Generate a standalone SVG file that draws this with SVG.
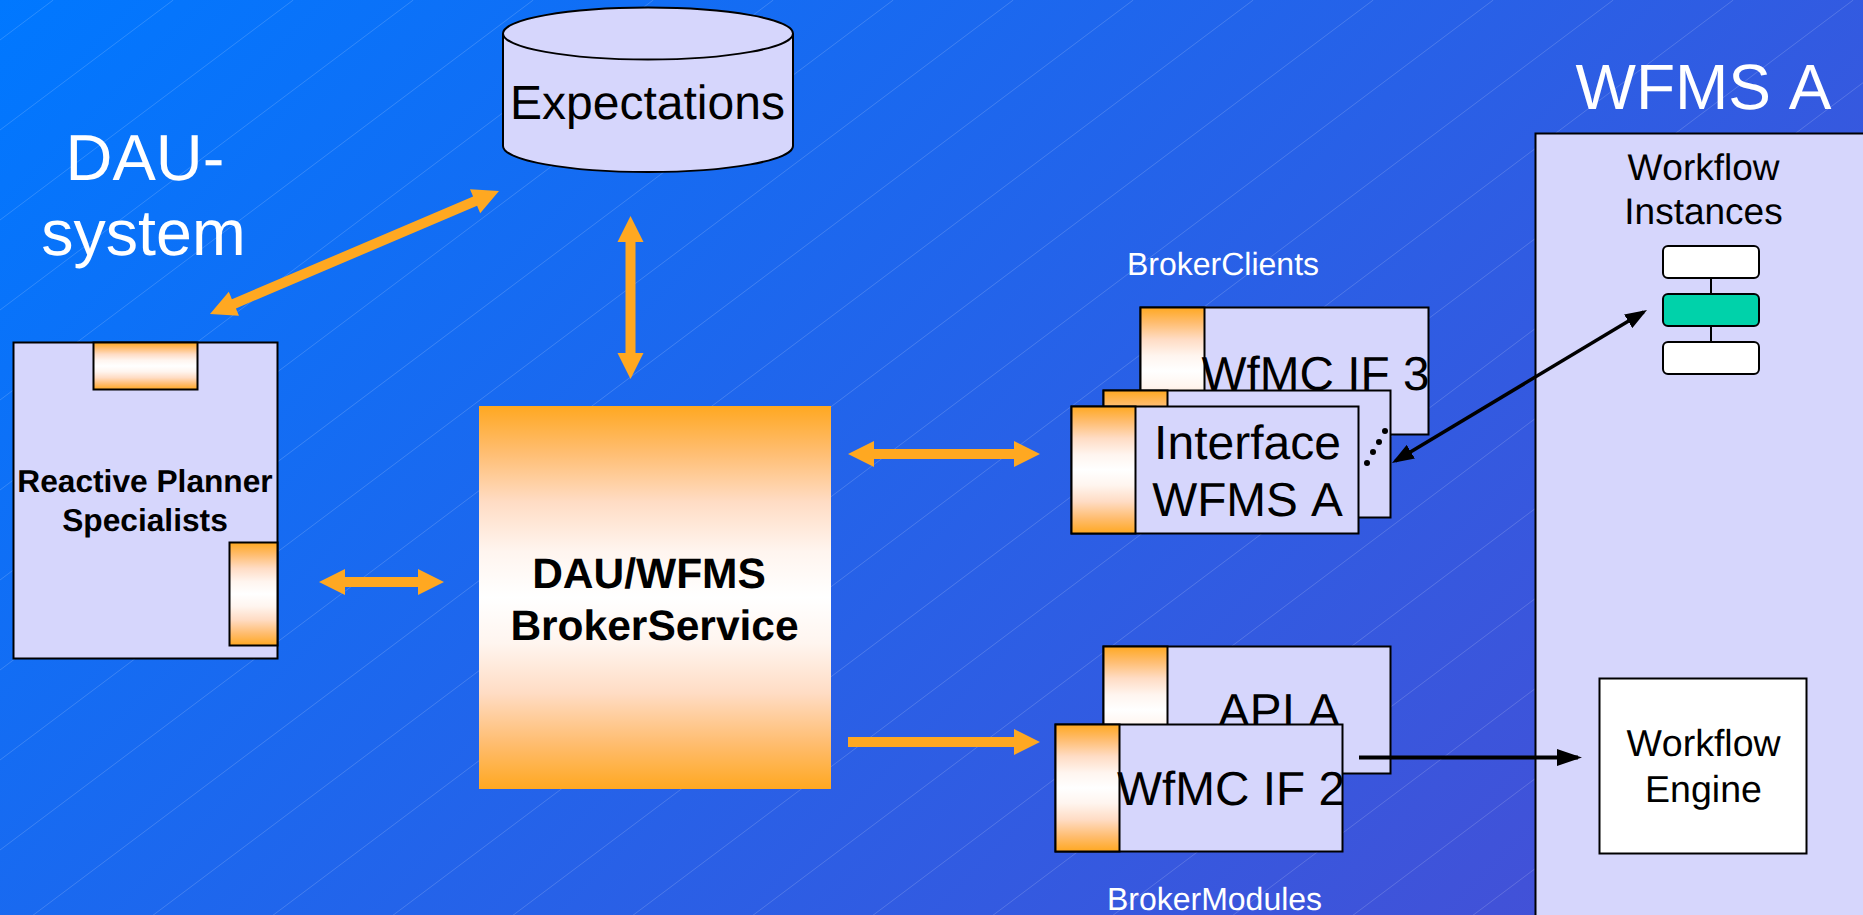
<svg xmlns="http://www.w3.org/2000/svg" width="1863" height="915" viewBox="0 0 1863 915">
<style>
.s{font-family:"Liberation Sans",Arial,sans-serif;text-anchor:middle;font-kerning:none;text-rendering:geometricPrecision}
.b{fill:#d6d6fc;stroke:#000;stroke-width:2}
.k{fill:#000}
.w{fill:#fff}
.g{fill:url(#og);stroke:#000;stroke-width:2}
.o{fill:#ffa821}
.r{stroke:#000;stroke-width:2}
</style>
<defs>
<linearGradient id="bg" gradientUnits="userSpaceOnUse" x1="0" y1="0" x2="1389" y2="1389"><stop offset="0" stop-color="#0078ff"/><stop offset="1" stop-color="#4b4cd2"/></linearGradient>
<linearGradient id="og" x1="0" y1="0" x2="0" y2="1"><stop offset="0" stop-color="#ffa821"/><stop offset=".12" stop-color="#ffbd70"/><stop offset=".25" stop-color="#ffdcc4"/><stop offset=".38" stop-color="#fff5ef"/><stop offset=".5" stop-color="#fff"/><stop offset=".62" stop-color="#fff5ef"/><stop offset=".75" stop-color="#ffdcc4"/><stop offset=".88" stop-color="#ffbd70"/><stop offset="1" stop-color="#ffa821"/></linearGradient>
<marker id="ah" markerUnits="userSpaceOnUse" viewBox="0 0 22 16" refX="18" refY="8" markerWidth="22" markerHeight="16" orient="auto-start-reverse"><path d="M0 0L22 8L0 16z"/></marker>
<marker id="ahb" markerUnits="userSpaceOnUse" viewBox="0 0 25 17" refX="21" refY="8.500" markerWidth="25" markerHeight="17" orient="auto"><path d="M0 0L25 8.500L0 17z"/></marker>
</defs>
<rect id="background" width="1863" height="915" fill="url(#bg)"/>
<path id="hatch" fill="none" stroke="#fff" stroke-opacity=".17" d="M0 40L53.300 0M0 130L173.300 0M0 220L293.300 0M0 310L413.300 0M0 400L533.300 0M0 490L653.300 0M0 580L773.300 0M0 670L893.300 0M0 760L1013.300 0M0 850L1133.300 0M0 940L1253.300 0M0 1030L1373.300 0M0 1120L1493.300 0M0 1210L1613.300 0M0 1300L1733.300 0M0 1390L1853.300 0M0 1480L1973.300 0M0 1570L2093.300 0M0 1660L2213.300 0M0 1750L2333.300 0M0 1840L2453.300 0M0 1930L2573.300 0M0 2020L2693.300 0M0 2110L2813.300 0M0 2200L2933.300 0M0 2290L3053.300 0"/>
<g id="labels">
<text class="s w" font-size="65" x="145" y="179.500">DAU-</text>
<text class="s w" font-size="64.500" x="143.500" y="255">system</text>
<text class="s w" font-size="64" x="1703.500" y="109">WFMS A</text>
<text class="s w" font-size="32" x="1223" y="275">BrokerClients</text>
<text class="s w" font-size="32" x="1214.500" y="910">BrokerModules</text>
</g>
<g id="expectations">
<path class="b" d="M503 33.500V146A145 26 0 0 0 793 146V33.500"/>
<ellipse class="b" cx="648" cy="33.500" rx="145" ry="26"/>
<text class="s k" font-size="48" x="647.500" y="119">Expectations</text>
</g>
<g id="planner">
<rect class="b" x="13.500" y="342.500" width="264" height="316"/>
<rect class="g" x="93.500" y="342.500" width="104" height="47"/>
<rect class="g" x="229.500" y="542.500" width="48" height="103"/>
<text class="s k" font-size="31.700" font-weight="700" x="145" y="492">Reactive Planner</text>
<text class="s k" font-size="31.700" font-weight="700" x="145" y="531">Specialists</text>
</g>
<g id="broker">
<rect x="479" y="406" width="352" height="383" fill="url(#og)"/>
<text class="s k" font-size="42.500" font-weight="700" x="649" y="588">DAU/WFMS</text>
<text class="s k" font-size="42.500" font-weight="700" x="654.500" y="640">BrokerService</text>
</g>
<g id="wfmc3">
<rect class="b" x="1140.500" y="307.500" width="288" height="127"/>
<rect class="g" x="1140.500" y="307.500" width="64" height="127"/>
<text class="s k" font-size="47.700" x="1315.500" y="390">WfMC IF 3</text>
</g>
<g id="clientback">
<rect class="b" x="1103.500" y="390.500" width="287" height="127"/>
<rect class="g" x="1103.500" y="390.500" width="64" height="127"/>
<circle cx="1385" cy="431" r="3"/><circle cx="1379" cy="442" r="3"/><circle cx="1373" cy="452" r="3"/><circle cx="1367" cy="463" r="3"/>
</g>
<g id="interface">
<rect class="b" x="1071.500" y="406.500" width="287" height="127"/>
<rect class="g" x="1071.500" y="406.500" width="64" height="127"/>
<text class="s k" font-size="48" x="1247.500" y="459">Interface</text>
<text class="s k" font-size="47.700" x="1247.500" y="516">WFMS A</text>
</g>
<g id="api">
<rect class="b" x="1103.500" y="646.500" width="287" height="127"/>
<rect class="g" x="1103.500" y="646.500" width="64" height="127"/>
<text class="s k" font-size="47.700" x="1279" y="727">API A</text>
</g>
<g id="wfmc2">
<rect class="b" x="1055.500" y="724.500" width="287" height="127"/>
<rect class="g" x="1055.500" y="724.500" width="64" height="127"/>
<text class="s k" font-size="47.700" x="1231" y="805">WfMC IF 2</text>
</g>
<g id="wfms">
<rect class="b" x="1535.500" y="133.500" width="340" height="800"/>
<text class="s k" font-size="37" x="1703.500" y="180">Workflow</text>
<text class="s k" font-size="37" x="1703.500" y="224">Instances</text>
<path class="r" d="M1711 278V294M1711 326V342"/>
<rect class="r" x="1663" y="246" width="96" height="32" rx="5" fill="#fff"/>
<rect class="r" x="1663" y="294" width="96" height="32" rx="5" fill="#00d2aa"/>
<rect class="r" x="1663" y="342" width="96" height="32" rx="5" fill="#fff"/>
<rect class="r" x="1599.500" y="678.500" width="207" height="175" fill="#fff"/>
<text class="s k" font-size="37.500" x="1703.500" y="756">Workflow</text>
<text class="s k" font-size="37.500" x="1703.500" y="802">Engine</text>
</g>
<g id="connectors">
<g class="o">
<path d="M210 314L239 315.800L235.900 308.400L477.100 205.800L480.200 213.200L499 191L470 189.200L473.100 196.600L231.900 299.200L228.800 291.800z"/>
<path d="M630.500 216L643.500 242H635.500V353H643.500L630.500 379L617.500 353H625.500V242H617.500z"/>
<path d="M319 582L345 569V577H418V569L444 582L418 595V587H345V595z"/>
<path d="M848 454L874 441V449H1014V441L1040 454L1014 467V459H874V467z"/>
<path d="M848 737H1014V729L1040 742L1014 755V747H848z"/>
</g>
<g stroke="#000" fill="none">
<path stroke-width="3.500" d="M1395.400 461L1643.600 312" marker-start="url(#ah)" marker-end="url(#ah)"/>
<path stroke-width="4" d="M1359 757.500H1578" marker-end="url(#ahb)"/>
</g>
</g>
</svg>
